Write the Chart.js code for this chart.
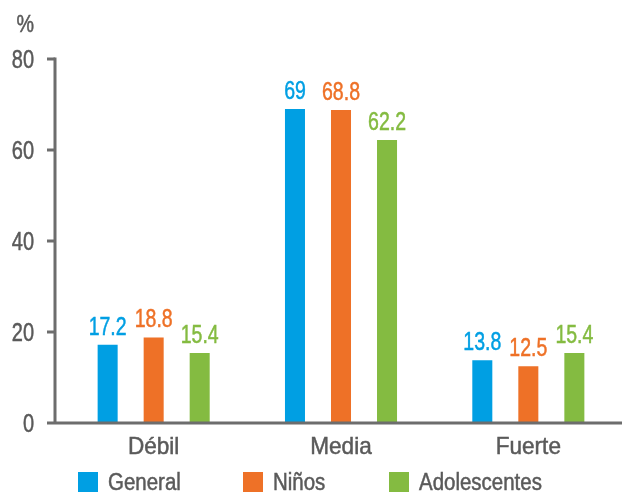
<!DOCTYPE html>
<html>
<head>
<meta charset="utf-8">
<script src="https://cdn.jsdelivr.net/npm/chart.js@4"></script>
<style>
html,body{margin:0;padding:0;background:#fff;}
#wrap{width:622px;height:492px;}
</style>
</head>
<body>
<div id="wrap"><canvas id="c" width="622" height="492"></canvas></div>
<script>
const categories = ['Débil', 'Media', 'Fuerte'];
const general = [17.2, 69, 13.8];
const ninos = [18.8, 68.8, 12.5];
const adolescentes = [15.4, 62.2, 15.4];
const seriesNames = ['General', 'Niños', 'Adolescentes'];
const yTicks = [0, 20, 40, 60, 80];
const yUnit = '%';

const FONT = "'Liberation Sans', Arial, sans-serif";
const GRAY = '#5a5a5a';
const AXIS = '#6d6d6d';
const COLORS = ['#009fe3', '#ee7127', '#84bb41'];

function drawText(ctx, text, x, y, align, size, sx, color) {
  ctx.save();
  ctx.font = size + 'px ' + FONT;
  ctx.fillStyle = color;
  ctx.strokeStyle = color;
  ctx.lineWidth = 0.5;
  ctx.textBaseline = 'alphabetic';
  ctx.textAlign = align;
  ctx.translate(x, y);
  ctx.scale(sx, 1);
  ctx.fillText(text, 0, 0);
  ctx.strokeText(text, 0, 0);
  ctx.restore();
}

const decorPlugin = {
  id: 'decor',
  afterDatasetsDraw(chart) {
    const ctx = chart.ctx;
    const xs = chart.scales.x, ys = chart.scales.y;
    const y0 = ys.getPixelForValue(0);
    const yTop = ys.getPixelForValue(yTicks[yTicks.length - 1]);
    const axisX = xs.left - 5;
    ctx.save();
    ctx.strokeStyle = AXIS;
    ctx.lineWidth = 3;
    ctx.lineCap = 'butt';
    ctx.beginPath();
    ctx.moveTo(axisX, yTop - 1.5);
    ctx.lineTo(axisX, y0);
    ctx.stroke();
    yTicks.forEach(v => {
      const py = ys.getPixelForValue(v);
      ctx.beginPath();
      ctx.moveTo(axisX - 8, py);
      ctx.lineTo(v === 0 ? xs.right : axisX, py);
      ctx.stroke();
      drawText(ctx, String(v), 34, py + 9, 'right', 25, 0.8, GRAY);
    });
    ctx.restore();
    drawText(ctx, yUnit, 34, 32, 'right', 24, 0.82, GRAY);
    categories.forEach((c, i) => {
      drawText(ctx, c, xs.getPixelForTick(i), y0 + 31, 'center', 24, 0.94, GRAY);
    });
    chart.data.datasets.forEach((ds, i) => {
      const meta = chart.getDatasetMeta(i);
      meta.data.forEach((bar, j) => {
        drawText(ctx, String(ds.data[j]), bar.x, bar.y - 10, 'center', 25, 0.78, COLORS[i]);
      });
    });
    const boxX = [78, 243, 389];
    seriesNames.forEach((n, i) => {
      ctx.fillStyle = COLORS[i];
      ctx.fillRect(boxX[i], 472, 20, 20);
      drawText(ctx, n, boxX[i] + 30, 490, 'left', 23, 0.89, GRAY);
    });
  }
};

new Chart(document.getElementById('c'), {
  type: 'bar',
  data: {
    labels: categories,
    datasets: [
      { label: seriesNames[0], data: general, backgroundColor: COLORS[0] },
      { label: seriesNames[1], data: ninos, backgroundColor: COLORS[1] },
      { label: seriesNames[2], data: adolescentes, backgroundColor: COLORS[2] }
    ]
  },
  options: {
    responsive: false,
    animation: false,
    devicePixelRatio: 1,
    layout: { padding: { top: 59, right: 0, left: 0, bottom: 0 } },
    datasets: { bar: { categoryPercentage: 0.737, barPercentage: 0.435 } },
    plugins: { legend: { display: false }, tooltip: { enabled: false } },
    scales: {
      x: {
        grid: { display: false, drawTicks: false },
        border: { display: false },
        ticks: { display: false },
        afterFit(scale) { scale.height = 69; }
      },
      y: {
        min: 0, max: 80,
        afterBuildTicks(scale) { scale.ticks = yTicks.map(v => ({ value: v })); },
        grid: { display: false, drawTicks: false },
        border: { display: false },
        ticks: { display: false },
        afterFit(scale) { scale.width = 60; }
      }
    }
  },
  plugins: [decorPlugin]
});
</script>
</body>
</html>
